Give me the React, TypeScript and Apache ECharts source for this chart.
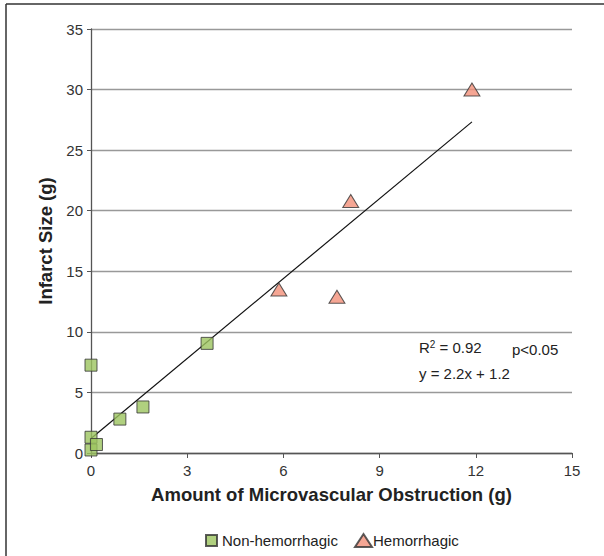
import React, { useEffect, useRef } from "react";
import * as echarts from "echarts";

const nonHemorrhagic: [number, number][] = [
  [0, 7.25],
  [0, 1.3],
  [0, 0.25],
  [0.17, 0.7],
  [0.9, 2.8],
  [1.62, 3.8],
  [3.62, 9.05],
];
const hemorrhagic: [number, number][] = [
  [5.86, 13.5],
  [7.67, 12.9],
  [8.1, 20.8],
  [11.88, 30.0],
];
const trendSlope = 2.2;
const trendIntercept = 1.2;
const trendRange = [0, 11.88];
const xTicks = { min: 0, max: 15, interval: 3 };
const yTicks = { min: 0, max: 35, interval: 5 };
const seriesNames = ["Non-hemorrhagic", "Hemorrhagic"];

const FONT = "'Liberation Sans', Arial, Helvetica, sans-serif";

export default function App() {
  const ref = useRef<HTMLDivElement>(null);
  useEffect(() => {
    document.body.style.margin = "0";
    const chart = echarts.init(ref.current!, null, { renderer: "svg" });
    const trend = trendRange.map((x) => [x, trendSlope * x + trendIntercept]);
    const legendText = { fontSize: 15, color: "#222", fontFamily: FONT };
    chart.setOption({
      animation: false,
      textStyle: { fontFamily: FONT },
      grid: { left: 91, right: 32, top: 29, bottom: 103 },
      xAxis: {
        type: "value",
        min: xTicks.min,
        max: xTicks.max,
        interval: xTicks.interval,
        name: "Amount of Microvascular Obstruction (g)",
        nameLocation: "middle",
        nameGap: 32,
        nameTextStyle: { fontSize: 18.5, fontWeight: "bold", color: "#222", fontFamily: FONT },
        axisLine: { lineStyle: { color: "#555", width: 1.3 } },
        axisTick: { show: true, length: 5, lineStyle: { color: "#555" } },
        axisLabel: { fontSize: 15, color: "#333", margin: 10, fontFamily: FONT },
        splitLine: { show: false },
      },
      yAxis: {
        type: "value",
        min: yTicks.min,
        max: yTicks.max,
        interval: yTicks.interval,
        name: "Infarct Size (g)",
        nameLocation: "middle",
        nameGap: 34,
        nameRotate: 90,
        nameTextStyle: { fontSize: 18.5, fontWeight: "bold", color: "#222", fontFamily: FONT },
        axisLine: { show: true, lineStyle: { color: "#555", width: 1.3 } },
        axisTick: { show: true, length: 4, lineStyle: { color: "#555" } },
        axisLabel: { fontSize: 15, color: "#333", margin: 8, fontFamily: FONT },
        splitLine: { show: true, lineStyle: { color: "#999", width: 1.3 } },
      },
      legend: [
        {
          data: [{ name: seriesNames[0], icon: "rect" }],
          top: 528,
          left: 200,
          itemWidth: 11,
          itemHeight: 11,
          textStyle: { ...legendText, padding: [0, 0, 0, 0] },
        },
        {
          data: [{ name: seriesNames[1], icon: "triangle" }],
          top: 528,
          left: 349,
          itemWidth: 17,
          itemHeight: 13,
          textStyle: { ...legendText, padding: [0, 0, 0, -4] },
        },
      ],
      series: [
        {
          type: "line",
          name: "trend",
          data: trend,
          showSymbol: false,
          symbol: "none",
          lineStyle: { color: "#111", width: 1.2 },
          z: 3,
          silent: true,
        },
        {
          type: "scatter",
          name: seriesNames[0],
          data: nonHemorrhagic,
          symbol: "rect",
          symbolSize: 12,
          clip: false,
          itemStyle: { color: "#9cc45f", borderColor: "#333", borderWidth: 1 },
          z: 4,
        },
        {
          type: "scatter",
          name: seriesNames[1],
          data: hemorrhagic,
          symbol: "triangle",
          symbolSize: [16, 13],
          clip: false,
          itemStyle: { color: "#f39079", borderColor: "#333", borderWidth: 1 },
          z: 4,
        },
      ],
      graphic: [
        {
          type: "line",
          shape: { x1: 6, y1: 4, x2: 604, y2: 4 },
          style: { stroke: "#333", lineWidth: 1.5 },
        },
        {
          type: "line",
          shape: { x1: 6, y1: 4, x2: 6, y2: 556 },
          style: { stroke: "#333", lineWidth: 1.5 },
        },
        {
          type: "text",
          left: 419,
          top: 339,
          style: {
            text: "{r|R}{s|2}{r| = 0.92}",
            rich: {
              r: { fontSize: 15, fill: "#222", fontFamily: FONT },
              s: { fontSize: 10, fill: "#222", fontFamily: FONT, verticalAlign: "top", padding: [0, 0, 7, 0] },
            },
          },
        },
        {
          type: "text",
          left: 512,
          top: 342,
          style: { text: "p<0.05", fontSize: 15, fill: "#222", fontFamily: FONT },
        },
        {
          type: "text",
          left: 419,
          top: 366,
          style: { text: "y = 2.2x + 1.2", fontSize: 15, fill: "#222", fontFamily: FONT },
        },
      ],
    });
    return () => chart.dispose();
  }, []);
  return <div ref={ref} style={{ width: 604, height: 556 }} />;
}
